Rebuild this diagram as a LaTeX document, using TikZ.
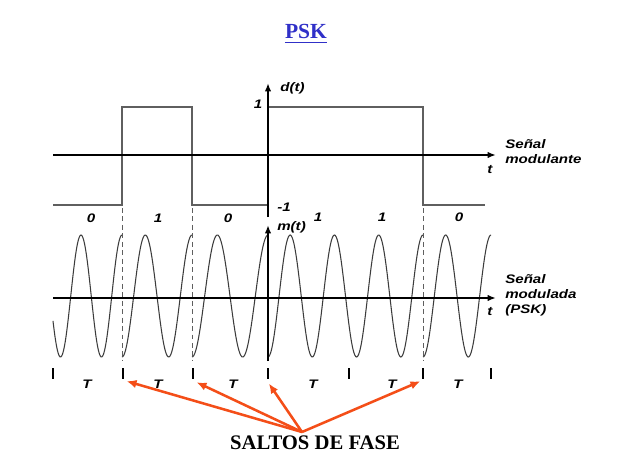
\documentclass[tikz,border=0pt]{standalone}
\usepackage{fontspec}
\setmainfont{Liberation Serif}
\newfontfamily\labfont{Liberation Sans}[FakeStretch=1.22]
\usetikzlibrary{arrows.meta}
\definecolor{pskblue}{RGB}{48,48,200}
\definecolor{jumpred}{RGB}{244,78,24}
\definecolor{wavegray}{RGB}{60,60,60}
\definecolor{sqgray}{RGB}{95,95,95}
\begin{document}
\begin{tikzpicture}[x=0.025cm,y=-0.025cm,
  axisline/.style={line width=1.5pt, -{Latex[length=6pt,width=4.6pt]}},
  wave/.style={wavegray, line width=0.75pt},
  sq/.style={sqgray, line width=0.75pt},
  guide/.style={sqgray, line width=0.6pt, dash pattern=on 3.5pt off 2.5pt},
  lab/.style={font=\labfont\bfseries\itshape\fontsize{8.8}{10.6}\selectfont, inner sep=0pt},
  tickmark/.style={fill=black, draw=none, minimum width=1.8pt, minimum height=7.8pt, inner sep=0pt, outer sep=0pt},
  jump/.style={jumpred, line width=1.8pt, -{Latex[length=7pt,width=6pt]}, shorten >=0.5pt}
]
\useasboundingbox[fill=white] (0,0) rectangle (635,453);

% title
\node[font=\bfseries\fontsize{15.3}{18}\selectfont, text=pskblue, inner sep=0pt, anchor=base] (title) at (306,38) {PSK};
\draw[pskblue, line width=1.3pt] ([yshift=-3.2pt]title.base west) -- ([yshift=-3.2pt]title.base east);

% ---------- modulating signal ----------
\coordinate (a1s) at (53,155);
\coordinate (a1e) at (496,155);
\coordinate (v1s) at (268,217);
\coordinate (v1e) at (268,83);
\draw[sq] (53,205) -- (122,205) -- (122,107) -- (192,107) -- (192,205) -- (268,205)
  -- (268,107) -- (423,107) -- (423,205) -- (485,205);
\draw[axisline] (a1s) -- (a1e);
\draw[axisline] (v1s) -- (v1e);
\node[lab, anchor=west] (dt) at (280,88) {d(t)};
\node[lab] (one) at (258,104) {1};
\node[lab] (mone) at (284,207) {-1};
\node[lab] (t1) at (490,170) {t};
\node[lab, anchor=west, align=left] (sm) at (505,152) {Señal\\modulante};

% bits
\node[lab] (b0) at (91,218) {0};
\node[lab] (b1) at (158,218) {1};
\node[lab] (b2) at (228,218) {0};
\node[lab] (b3) at (318,217) {1};
\node[lab] (b4) at (382,217) {1};
\node[lab] (b5) at (459,217) {0};

% dashed guides
\draw[guide] (122,208) -- (122,360);
\draw[guide] (192,208) -- (192,360);
\draw[guide] (423,208) -- (423,360);

% ---------- modulated signal ----------
\draw[wave] plot[domain=53:122, samples=80, smooth] (\x, {296-61*cos((\x-122)/41*360)});
\draw[wave] plot[domain=122:192, samples=80, smooth] (\x, {296+61*cos((\x-122)/70*540)});
\draw[wave] plot[domain=192:268, samples=80, smooth] (\x, {296+61*cos((\x-192)/76*540)});
\draw[wave] plot[domain=268:423, samples=160, smooth] (\x, {296+61*cos((\x-268)/155*1260)});
\draw[wave] plot[domain=423:491, samples=80, smooth] (\x, {296+61*cos((\x-423)/68*540)});

\coordinate (a2s) at (53,298);
\coordinate (a2e) at (496,298);
\coordinate (v2s) at (268,361);
\coordinate (v2e) at (268,225);
\draw[axisline] (a2s) -- (a2e);
\draw[axisline] (v2s) -- (v2e);
\node[lab, anchor=west] (mt) at (277,227) {m(t)};
\node[lab] (t2) at (490,312) {t};
\node[lab, anchor=west, align=left] (smd) at (505,295) {Señal\\modulada\\(PSK)};

% ticks and periods
\node[tickmark] (k0) at (53,373.5) {};
\node[tickmark] (k1) at (123,373.5) {};
\node[tickmark] (k2) at (193,373.5) {};
\node[tickmark] (k3) at (268,373.5) {};
\node[tickmark] (k4) at (349,373.5) {};
\node[tickmark] (k5) at (423,373.5) {};
\node[tickmark] (k6) at (491,373.5) {};
\node[lab] (T0) at (87,384) {T};
\node[lab] (T1) at (158,384) {T};
\node[lab] (T2) at (233,384) {T};
\node[lab] (T3) at (313,384) {T};
\node[lab] (T4) at (392,384) {T};
\node[lab] (T5) at (458,384) {T};

% phase jumps
\node[font=\bfseries\fontsize{14.7}{17}\selectfont, inner sep=0pt, anchor=base] (saltos) at (315,449) {SALTOS DE FASE};
\coordinate (conv) at (302,432);
\coordinate (p1) at (126,381);
\coordinate (p2) at (196,382);
\coordinate (p3) at (268.5,383);
\coordinate (p5) at (421,381);
\draw[jump] (conv) -- (p1);
\draw[jump] (conv) -- (p2);
\draw[jump] (conv) -- (p3);
\draw[jump] (conv) -- (p5);
\end{tikzpicture}
\end{document}
